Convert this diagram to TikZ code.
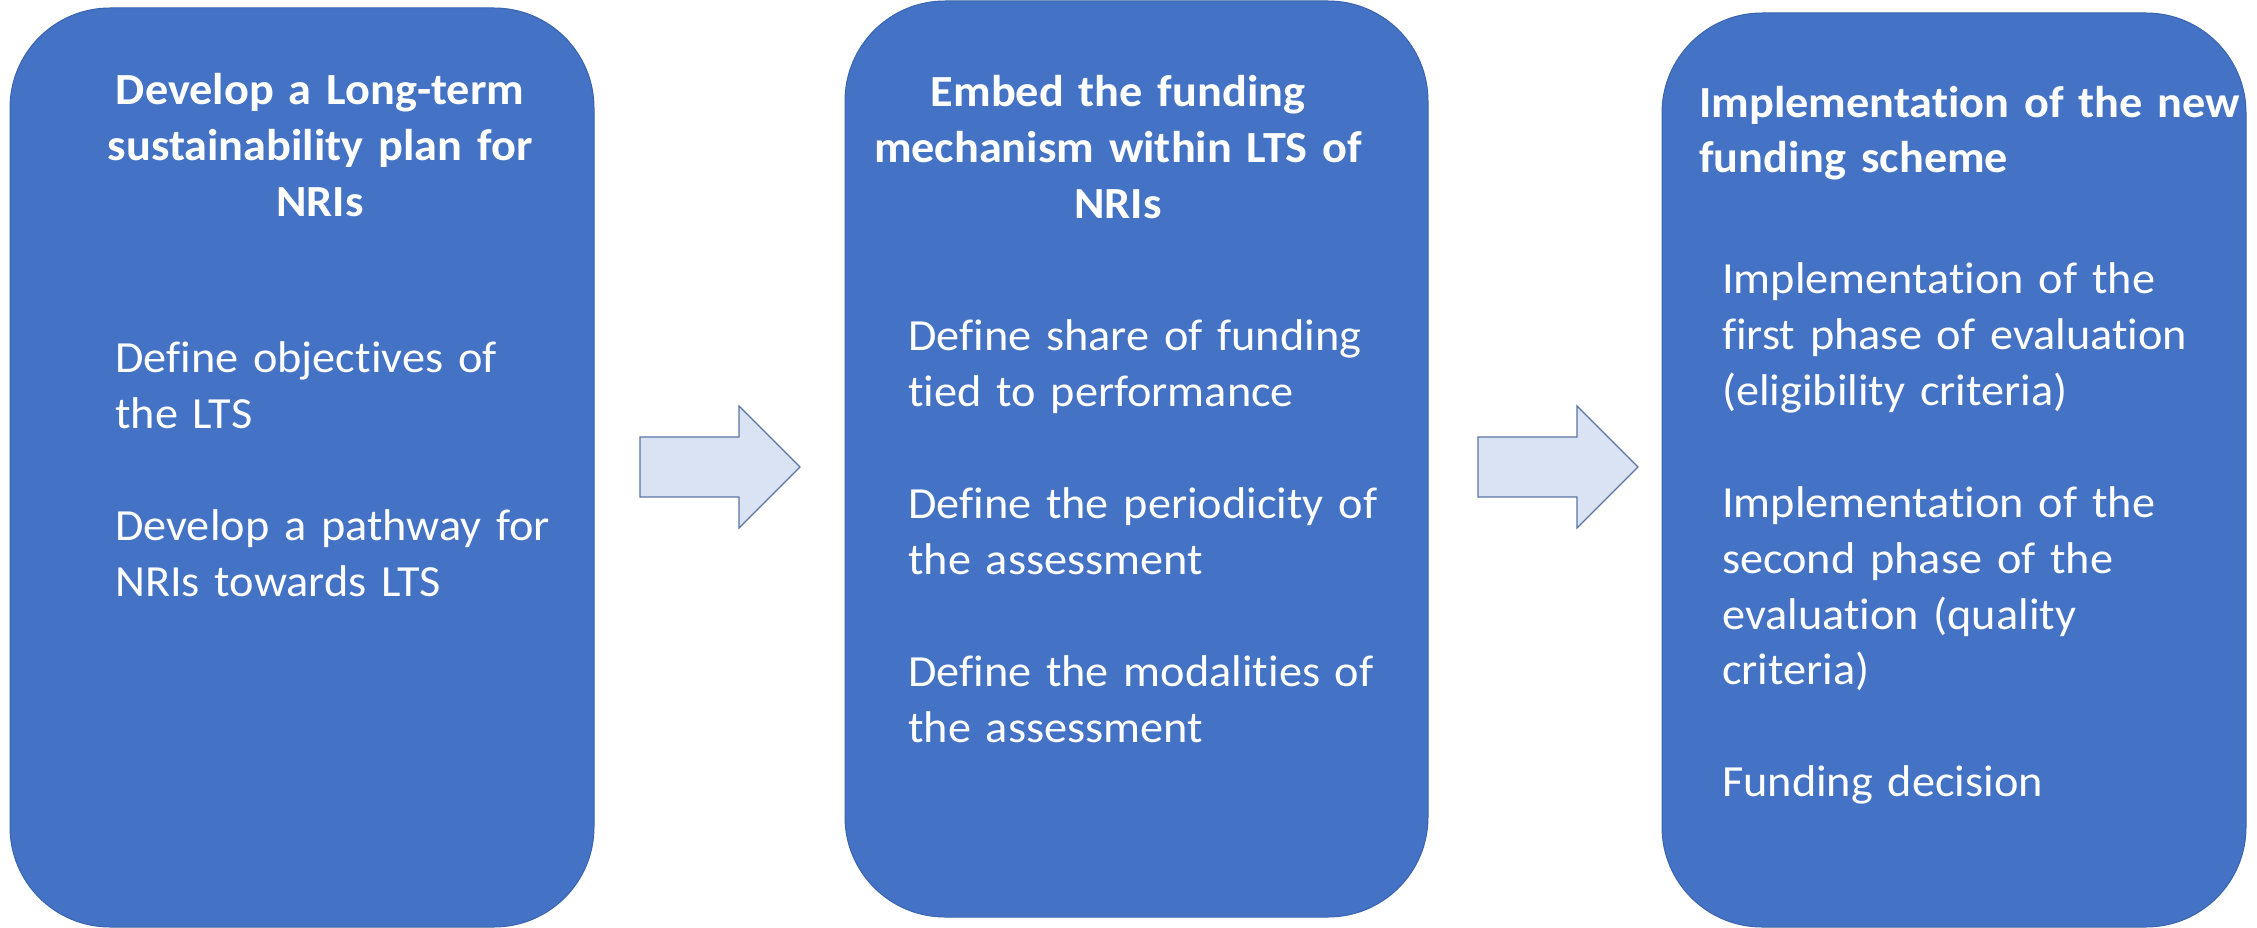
\documentclass[tikz,border=0pt]{standalone}
\usepackage{fontspec}
\setmainfont[FakeStretch=1.04,Ligatures=NoCommon]{Carlito}
\usepackage{tikz}
\usetikzlibrary{calc}
\definecolor{phaseblue}{HTML}{4472C4}
\definecolor{phaseedge}{HTML}{3A64AF}
\definecolor{arrowfill}{HTML}{DAE3F3}
\definecolor{arrowedge}{HTML}{5B74A6}

\begin{document}
\begin{tikzpicture}[x=1pt,y=-1pt,
  phasebox/.style={draw=phaseedge,line width=1pt,fill=phaseblue,rounded corners=100pt,inner sep=0pt},
  phasetitle/.style={text=white,inner sep=0pt,text width=560pt,align=center,font=\fontsize{44.5}{56}\selectfont\bfseries},
  phasetext/.style={text=white,inner sep=0pt,text width=520pt,align=left,font=\fontsize{44.5}{56}\selectfont},
  blockarrow/.style={draw=arrowedge,line width=1.2pt,fill=arrowfill,line join=miter}]
  \useasboundingbox[fill=white] (0,0) rectangle (2257,928);
%die drei Phasen
  \node[phasebox,minimum width=584pt,minimum height=919pt] (ph1) at (302,467.5) {};
  \node[phasebox,minimum width=583pt,minimum height=916pt] (ph2) at (1136.5,459) {};
  \node[phasebox,minimum width=584pt,minimum height=914pt] (ph3) at (1954,470) {};
%Pfeile dazwischen
\foreach \ax in {640,1478}{
\draw[blockarrow] (\ax,437) -- ++(99,0) -- ++(0,-31) -- ++(61,61) -- ++(-61,61) -- ++(0,-31) -- ++(-99,0) -- cycle;
}
%Texte
  \node[phasetitle,anchor=base] (ti1) at (320,105) {Develop a Long-term\\ sustainability plan for\\ NRIs};
  \node[phasetext,anchor=base west] (tx1) at (115,372) {Define objectives of\\ the LTS\\[56pt] Develop a pathway for\\ NRIs towards LTS};
  \node[phasetitle,anchor=base] (ti2) at (1118,107) {Embed the funding\\ mechanism within LTS of\\ NRIs};
  \node[phasetext,anchor=base west] (tx2) at (908,350) {Define share of funding\\ tied to performance\\[56pt] Define the periodicity of\\ the assessment\\[56pt] Define the modalities of\\ the assessment};
  \node[phasetext,anchor=base west,text width=560pt,font=\fontsize{44.5}{55}\selectfont\bfseries] (ti3) at (1699,118) {Implementation of the new\\ funding scheme};
  \node[phasetext,anchor=base west] (tx3) at (1722,293) {Implementation of the\\ first phase of evaluation\\ (eligibility criteria)\\[56pt] Implementation of the\\ second phase of the\\ evaluation (quality\\ criteria)\\[56pt] Funding decision};
\end{tikzpicture}
\end{document}
